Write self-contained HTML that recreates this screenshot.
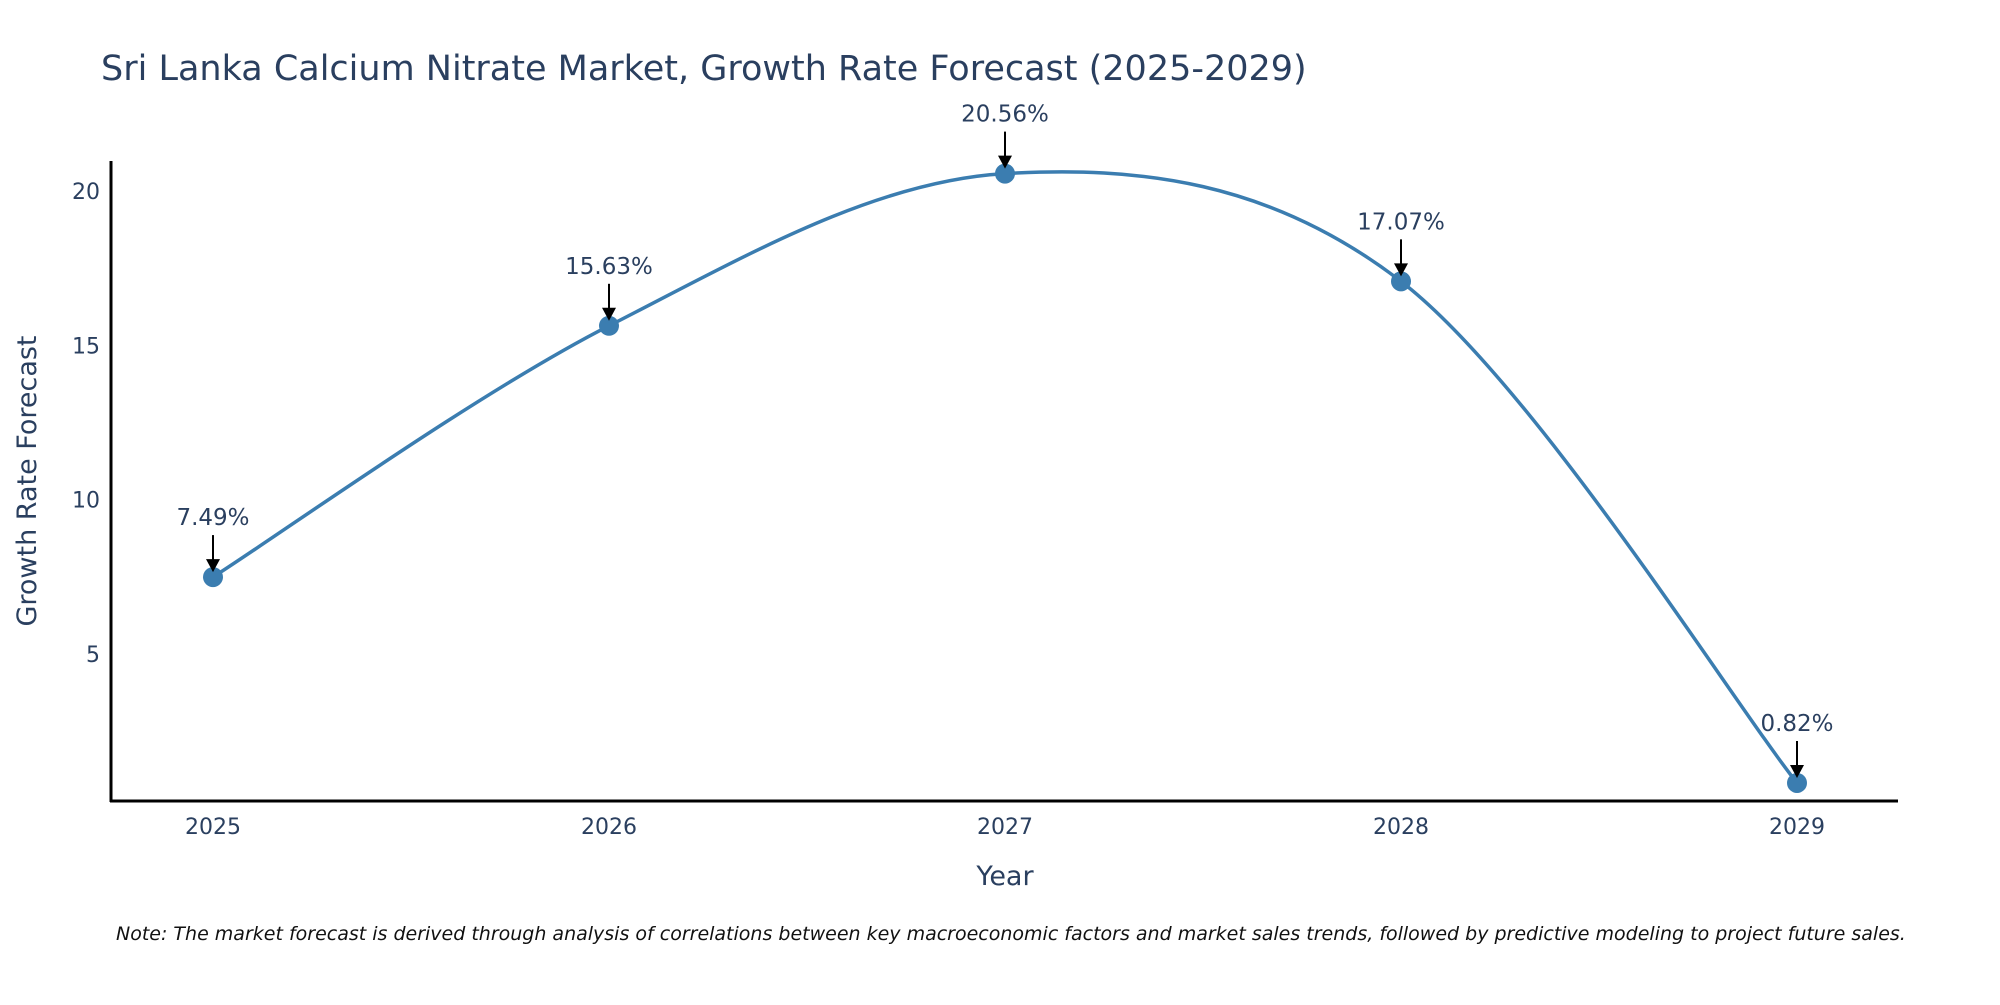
<!DOCTYPE html>
<html><head><meta charset="utf-8"><style>
body{margin:0;background:#fff;}
svg text{font-family:"DejaVu Sans","Liberation Sans",sans-serif;fill:#2a3f5f;}
</style></head><body>
<svg id="chart" width="2000" height="1000" viewBox="0 0 2000 1000">
<text x="101" y="80" font-size="35">Sri Lanka Calcium Nitrate Market, Growth Rate Forecast (2025-2029)</text>
<g id="yticks"></g><g id="xticks"></g>
<path id="line" fill="none" stroke="#3b7db0" stroke-width="3.5"></path>
<g id="marks"></g>
<line x1="111" y1="161" x2="111" y2="802" stroke="#000" stroke-width="3"/>
<line x1="110" y1="801" x2="1898" y2="801" stroke="#000" stroke-width="3"/>
<text x="0" y="0" font-size="27" text-anchor="middle" transform="translate(36,481) rotate(-90)">Growth Rate Forecast</text>
<text x="1005" y="885" font-size="27" text-anchor="middle">Year</text>
<text x="116" y="940" font-size="19" font-style="italic" style="fill:#111">Note: The market forecast is derived through analysis of correlations between key macroeconomic factors and market sales trends, followed by predictive modeling to project future sales.</text>
</svg>
<script>
const years=[2025,2026,2027,2028,2029];
const values=[7.49,15.63,20.56,17.07,0.82];
const labels=["7.49%","15.63%","20.56%","17.07%","0.82%"];
const yTicks=[5,10,15,20];
const NS="http://www.w3.org/2000/svg";
function xs(v){return 213+(v-2025)*396;}
function ys(v){return 808.3-v*30.87;}
function mk(t,a,p){const e=document.createElementNS(NS,t);for(const k in a)e.setAttribute(k,a[k]);p.appendChild(e);return e;}
const yt=document.getElementById('yticks');
yTicks.forEach(t=>{const e=mk('text',{x:100,y:ys(t)+8,'font-size':22,'text-anchor':'end'},yt);


e.textContent=t;});
const xt=document.getElementById('xticks');
years.forEach(t=>{const e=mk('text',{x:xs(t),y:834,'font-size':22,'text-anchor':'middle'},xt);


e.textContent=t;});
const P=years.map((y,i)=>[xs(y),ys(values[i])]);
let d='M'+P[0][0]+','+P[0][1];
const tn=0.5;
for(let i=0;i<P.length-1;i++){
 const p0=P[Math.max(0,i-1)],p1=P[i],p2=P[i+1],p3=P[Math.min(P.length-1,i+2)];
 const c1=[p1[0]+(p2[0]-p0[0])*tn/3,p1[1]+(p2[1]-p0[1])*tn/3];
 const c2=[p2[0]-(p3[0]-p1[0])*tn/3,p2[1]-(p3[1]-p1[1])*tn/3];
 d+=` C${c1[0]},${c1[1]} ${c2[0]},${c2[1]} ${p2[0]},${p2[1]}`;
}
document.getElementById('line').setAttribute('d',d);
const g=document.getElementById('marks');
P.forEach((p,i)=>{
 const c=mk('circle',{cx:p[0],cy:p[1],r:10,fill:'#3b7db0'},g);
 
 
 const l=mk('line',{x1:p[0],y1:p[1]-42,x2:p[0],y2:p[1]-14,stroke:'#000','stroke-width':2},g);
 
 
 const h=mk('polygon',{points:`${p[0]-7},${p[1]-18} ${p[0]+7},${p[1]-18} ${p[0]},${p[1]-5}`,fill:'#000'},g);
 
 
 const t=mk('text',{x:p[0],y:p[1]-52,'font-size':23,'text-anchor':'middle'},g);
 
 
 t.textContent=labels[i];
});
</script>
</body></html>
